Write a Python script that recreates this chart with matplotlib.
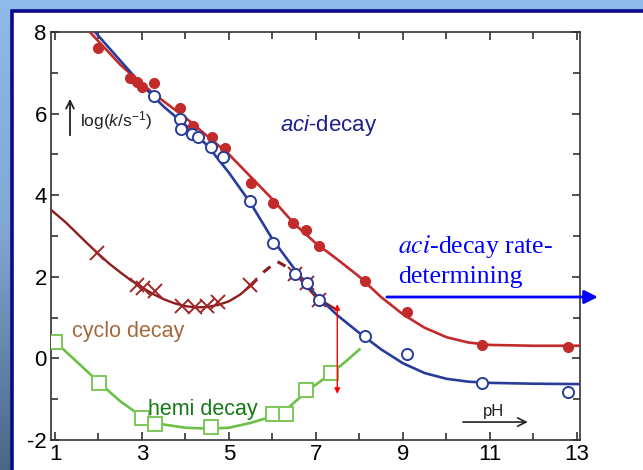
import numpy as np
import matplotlib
matplotlib.use('Agg')
import matplotlib.pyplot as plt
from matplotlib.patches import Rectangle
from matplotlib.colors import LinearSegmentedColormap

plt.rcParams['font.family'] = ['Liberation Sans', 'DejaVu Sans']
plt.rcParams['mathtext.fontset'] = 'custom'
plt.rcParams['mathtext.rm'] = 'Liberation Sans'
plt.rcParams['mathtext.it'] = 'Liberation Sans:italic'

# ---------------- data ----------------
red_x = [1.99, 2.72, 2.88, 2.99, 3.28, 3.87, 4.18, 4.60, 4.91, 5.50, 6.02, 6.48, 6.77, 7.08, 8.13, 9.10, 10.81, 12.79]
red_y = [7.62, 6.87, 6.78, 6.66, 6.74, 6.13, 5.70, 5.43, 5.16, 4.29, 3.82, 3.31, 3.15, 2.76, 1.90, 1.14, 0.33, 0.29]

blue_x = [3.28, 3.87, 3.90, 4.14, 4.29, 4.58, 4.87, 5.48, 6.02, 6.52, 6.79, 7.08, 8.13, 9.10, 10.81, 12.79]
blue_y = [6.43, 5.86, 5.63, 5.49, 5.42, 5.19, 4.93, 3.86, 2.82, 2.07, 1.86, 1.43, 0.55, 0.10, -0.60, -0.82]

red_fit_x = [1.80, 2.5, 3.0, 3.5, 4.0, 4.5, 5.0, 5.5, 6.0, 6.5, 7.0, 7.5, 8.0, 8.5, 9.0, 9.5, 10.0, 10.5, 11.0, 12.0, 13.07]
red_fit_y = [8.0, 7.2, 6.72, 6.3, 5.9, 5.45, 5.0, 4.45, 3.9, 3.3, 2.82, 2.42, 2.0, 1.5, 1.08, 0.75, 0.52, 0.39, 0.33, 0.31, 0.31]

blue_fit_x = [1.92, 2.5, 3.0, 3.5, 4.0, 4.5, 5.0, 5.5, 6.0, 6.5, 7.0, 7.5, 8.0, 8.5, 9.0, 9.5, 10.0, 10.5, 11.0, 12.0, 13.07]
blue_fit_y = [8.0, 7.3, 6.7, 6.17, 5.72, 5.22, 4.55, 3.8, 2.92, 2.2, 1.55, 1.05, 0.62, 0.22, -0.12, -0.36, -0.5, -0.57, -0.6, -0.62, -0.63]

cyclo_x = [1.96, 2.88, 3.03, 3.30, 3.91, 4.22, 4.49, 4.75, 5.48, 6.52, 6.79, 7.08]
cyclo_y = [2.58, 1.80, 1.72, 1.64, 1.28, 1.27, 1.28, 1.39, 1.80, 2.07, 1.86, 1.43]

cyclo_fit1_x = [0.91, 1.25, 1.5, 1.75, 2.0, 2.25, 2.5, 2.75, 3.0, 3.25, 3.5, 3.75, 4.0, 4.25, 4.5, 4.75, 5.0, 5.25, 5.5]
cyclo_fit1_y = [3.64, 3.33, 3.07, 2.81, 2.56, 2.32, 2.11, 1.91, 1.74, 1.58, 1.45, 1.35, 1.28, 1.25, 1.26, 1.31, 1.40, 1.56, 1.78]
cyclo_dash_x = [5.5, 5.8, 6.1, 6.4, 6.6]
cyclo_dash_y = [1.78, 2.12, 2.38, 2.2, 1.98]
cyclo_fit2_x = [6.6, 7.0, 7.48]
cyclo_fit2_y = [1.98, 1.50, 1.19]

hemi_x = [1.0, 2.02, 2.99, 3.30, 4.58, 6.02, 6.31, 6.77, 7.34]
hemi_y = [0.41, -0.60, -1.47, -1.62, -1.67, -1.37, -1.37, -0.78, -0.37]
hemi_fit_x = [1.0, 1.5, 2.0, 2.5, 3.0, 3.5, 4.0, 4.5, 5.0, 5.5, 6.0, 6.3, 6.5, 6.8, 7.0, 7.35, 7.7, 8.0]
hemi_fit_y = [0.41, -0.08, -0.58, -1.05, -1.43, -1.62, -1.70, -1.72, -1.70, -1.58, -1.42, -1.27, -1.08, -0.80, -0.64, -0.37, -0.06, 0.22]

x_ticks = [1, 3, 5, 7, 9, 11, 13]
y_ticks = [-2, 0, 2, 4, 6, 8]

# ---------------- figure ----------------
W, H = 643, 470
fig = plt.figure(figsize=(W / 100, H / 100), dpi=100)

# slide background gradient
bg = fig.add_axes([0, 0, 1, 1], zorder=-10)
cmap = LinearSegmentedColormap.from_list('bg', ['#8EBBEA', '#7FA7D2', '#4A6685'])
grad = np.linspace(0, 1, 256).reshape(-1, 1)
bg.imshow(grad, aspect='auto', cmap=cmap, extent=[0, 1, 0, 1], origin='upper')
bg.set_axis_off()

# white panel with navy border
fig.add_artist(Rectangle((11.5 / W, -0.1), 1.2, 1.1 - 11.5 / H, transform=fig.transFigure,
                         facecolor='white', edgecolor='#0B0B8C', linewidth=2.6, zorder=-5))

ax = fig.add_axes([51 / W, 1 - 440 / H, 529 / W, 408 / H])
ax.set_facecolor('none')
ax.set_xlim(0.908, 13.07)
ax.set_ylim(-2, 8)

red = '#C32A2A'
blue = '#283C9A'
dred = '#8E1C1C'
green = '#6CC047'

# fitted curves
ax.plot(red_fit_x, red_fit_y, color=red, lw=1.9, zorder=3, solid_capstyle='butt')
ax.plot(blue_fit_x, blue_fit_y, color=blue, lw=1.9, zorder=4, solid_capstyle='butt')
ax.plot(cyclo_fit1_x, cyclo_fit1_y, color=dred, lw=1.7, zorder=3)
ax.plot(cyclo_dash_x, cyclo_dash_y, color=dred, lw=2.2, ls=(0, (3, 3)), zorder=3)
ax.plot(cyclo_fit2_x, cyclo_fit2_y, color=dred, lw=1.7, zorder=3)
ax.plot(hemi_fit_x, hemi_fit_y, color=green, lw=1.9, zorder=3)

# markers
ax.plot(cyclo_x, cyclo_y, ls='none', marker='x', ms=9.5, mew=1.4, color='#A02828', zorder=4)
ax.plot(red_x, red_y, ls='none', marker='o', ms=7, color=red, mec=red, zorder=5)
ax.plot(blue_x, blue_y, ls='none', marker='o', ms=8, mfc='white', mec=blue, mew=1.4, zorder=6)
ax.plot(hemi_x, hemi_y, ls='none', marker='s', ms=10, mfc='white', mec='#7CC858', mew=1.4, zorder=5)

# axes styling
for s in ax.spines.values():
    s.set_color('#333333')
    s.set_linewidth(1.2)
ax.set_xticks(x_ticks)
ax.set_yticks(y_ticks)
ax.set_xticks([2, 4, 6, 8, 10, 12], minor=True)
ax.set_yticks([-1, 1, 3, 5, 7], minor=True)
ax.tick_params(which='both', direction='in', top=True, right=True, color='#333333', width=1.2)
ax.tick_params(which='major', length=6, labelsize=16, pad=3)
ax.tick_params(which='minor', length=5)
ax.set_yticklabels([str(v) for v in y_ticks])
ax.set_xticklabels([str(v) for v in x_ticks])

# annotations
ax.annotate('', xy=(1.345, 6.43), xytext=(1.345, 5.40),
            arrowprops=dict(arrowstyle='->', color='#222222', lw=1.3, mutation_scale=14))
ax.text(1.575, 5.84, r'log($k$/s$^{-1}$)', fontsize=12.5, color='#222222', va='center', ha='left')

ax.text(6.17, 5.57, r'$aci$-decay', fontsize=16, color='#1E1E8C', va='baseline', ha='left')

ax.text(8.885, 2.58, r'$aci$-decay rate-', fontsize=18.5, color='#0000FF', va='baseline', ha='left',
        family='Liberation Serif', math_fontfamily='stix')
ax.text(8.885, 1.85, 'determining', fontsize=18.5, color='#0000FF', va='baseline', ha='left',
        family='Liberation Serif')
ax.annotate('', xy=(13.48, 1.505), xytext=(8.63, 1.505), annotation_clip=False,
            arrowprops=dict(arrowstyle='-|>', color='#0000FF', lw=2, mutation_scale=20,
                            shrinkA=0, shrinkB=0))

ax.text(1.39, 0.53, 'cyclo decay', fontsize=15.5, color='#A5683C', va='baseline', ha='left')
ax.text(3.14, -1.39, 'hemi decay', fontsize=15.5, color='#157A15', va='baseline', ha='left', zorder=7)

ax.text(11.09, -1.31, 'pH', fontsize=12, color='#222222', va='center', ha='center')
ax.annotate('', xy=(11.87, -1.56), xytext=(10.38, -1.56),
            arrowprops=dict(arrowstyle='->', color='#222222', lw=1.2, mutation_scale=15,
                            shrinkA=0, shrinkB=0))

ax.annotate('', xy=(7.49, -0.87), xytext=(7.49, 1.33),
            arrowprops=dict(arrowstyle='<|-|>', color='#FF0000', lw=1.0, mutation_scale=8,
                            shrinkA=0, shrinkB=0), zorder=8)

fig.savefig('out.png', dpi=100)
